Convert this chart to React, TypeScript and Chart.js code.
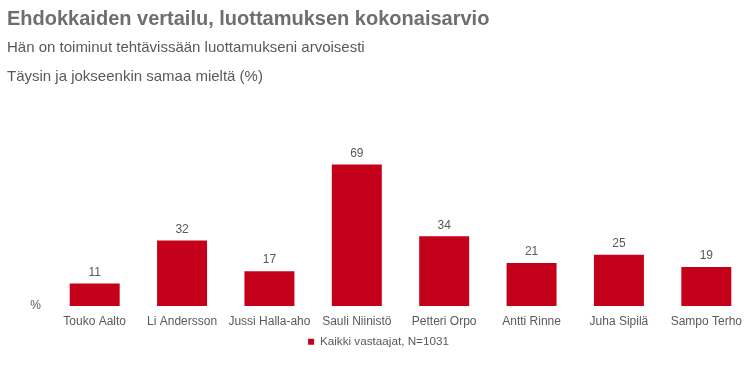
import React, { useEffect, useRef } from "react";
import { Chart, registerables } from "chart.js";

Chart.register(...registerables);

const titleText = "Ehdokkaiden vertailu, luottamuksen kokonaisarvio";
const subtitleLines = [
  "Hän on toiminut tehtävissään luottamukseni arvoisesti",
  "Täysin ja jokseenkin samaa mieltä (%)",
];
const categories = [
  "Touko Aalto",
  "Li Andersson",
  "Jussi Halla-aho",
  "Sauli Niinistö",
  "Petteri Orpo",
  "Antti Rinne",
  "Juha Sipilä",
  "Sampo Terho",
];
const values = [11, 32, 17, 69, 34, 21, 25, 19];
const seriesLabel = "Kaikki vastaajat, N=1031";
const unitLabel = "%";

const FONT = "Arial, 'Liberation Sans', sans-serif";
const BAR = "#c5001a";
const TEXT = "#595959";

const dataLabels = {
  id: "dataLabels",
  afterDatasetsDraw(chart: any) {
    const ctx = chart.ctx;
    chart.data.datasets.forEach((ds: any, i: number) => {
      const meta = chart.getDatasetMeta(i);
      meta.data.forEach((el: any, j: number) => {
        ctx.save();
        ctx.font = `12px ${FONT}`;
        ctx.fillStyle = TEXT;
        ctx.textAlign = "center";
        ctx.textBaseline = "middle";
        ctx.fillText(String(ds.data[j]), el.x, el.y - 11);
        ctx.restore();
      });
    });
  },
};

export default function App() {
  const ref = useRef<HTMLCanvasElement | null>(null);
  useEffect(() => {
    if (!ref.current) return;
    const chart = new Chart(ref.current, {
      type: "bar",
      data: {
        labels: categories,
        datasets: [
          {
            label: seriesLabel,
            data: values,
            backgroundColor: BAR,
            borderWidth: 0,
            barPercentage: 0.572,
            categoryPercentage: 1,
          },
        ],
      },
      options: {
        animation: false,
        responsive: true,
        maintainAspectRatio: false,
        layout: { padding: { left: 7, right: 0, top: 0, bottom: 18.3 } },
        plugins: {
          title: {
            display: true,
            text: titleText,
            align: "start",
            color: "#6e6e6e",
            font: { family: FONT, size: 20, weight: "bold", lineHeight: 1.2 },
            padding: { top: 7, bottom: 2.5 },
          },
          subtitle: {
            display: true,
            text: subtitleLines,
            align: "start",
            color: TEXT,
            font: { family: FONT, size: 15, lineHeight: 29 / 15 },
            padding: { top: 0, bottom: 8.5 },
          },
          legend: {
            position: "bottom",
            labels: {
              boxWidth: 6,
              boxHeight: 6,
              padding: 6,
              color: TEXT,
              font: { family: FONT, size: 11.7 },
            },
          },
          tooltip: { enabled: false },
        },
        scales: {
          x: {
            grid: { display: false, drawTicks: false },
            border: { display: false },
            afterFit(scale: any) {
              scale.height = 24;
            },
            ticks: {
              color: TEXT,
              font: { family: FONT, size: 12 },
              padding: 8,
              maxRotation: 0,
              autoSkip: false,
            },
          },
          y: {
            min: 0,
            max: 100.5,
            grid: { display: false, drawTicks: false },
            border: { display: false },
            afterFit(scale: any) {
              scale.width = 44;
            },
            ticks: {
              stepSize: 10,
              color: TEXT,
              font: { family: FONT, size: 12 },
              padding: 10,
              callback: (v: any) => (Number(v) === 0 ? unitLabel : ""),
            },
          },
        },
      },
      plugins: [dataLabels],
    });
    return () => chart.destroy();
  }, []);
  return (
    <div style={{ position: "absolute", left: 0, top: 0, width: 750, height: 376, background: "#fff" }}>
      <canvas ref={ref} />
    </div>
  );
}
